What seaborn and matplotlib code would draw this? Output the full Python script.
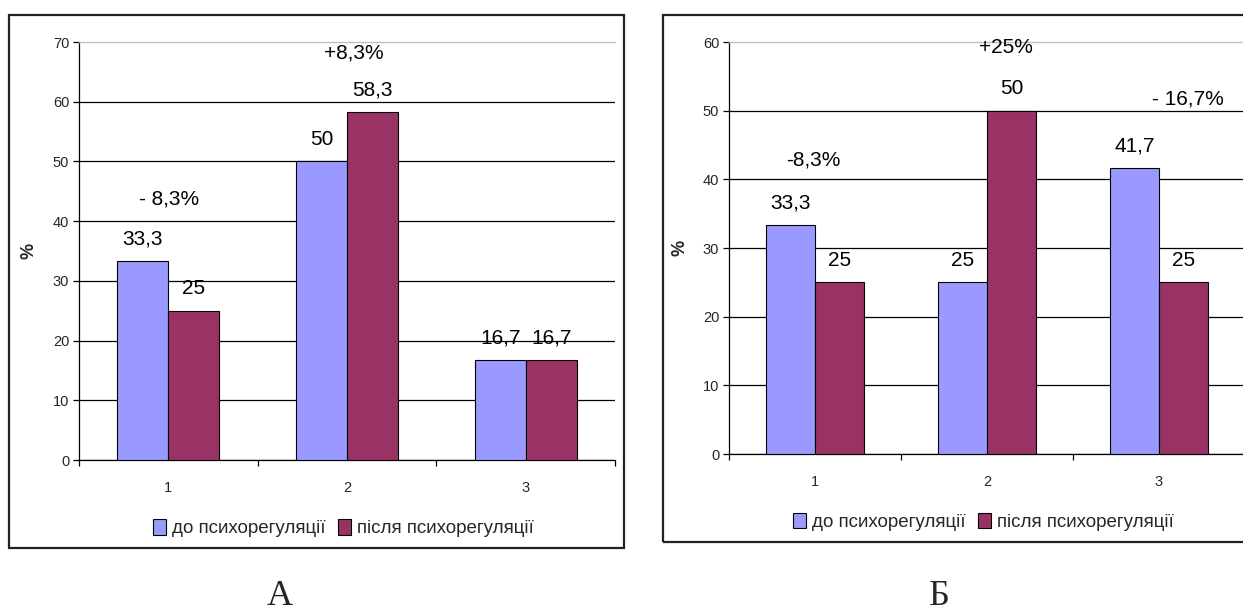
import matplotlib
matplotlib.use("Agg")
import matplotlib.pyplot as plt
from matplotlib.patches import Rectangle
import numpy as np
import pandas as pd
import seaborn as sns

# ---- data -------------------------------------------------------------
categories = ["1", "2", "3"]
series_names = ["до психорегуляції", "після психорегуляції"]

before_a = [33.3, 50, 16.7]
after_a = [25, 58.3, 16.7]
change_a = ["- 8,3%", "+8,3%"]

before_b = [33.3, 25, 41.7]
after_b = [25, 50, 25]
change_b = ["-8,3%", "+25%", "- 16,7%"]

panel_titles = ["А", "Б"]
ymax_a, ystep_a = 70, 10
ymax_b, ystep_b = 60, 10

# ---- style ------------------------------------------------------------
sns.set_theme(style="white")
plt.rcParams["font.family"] = ["Liberation Sans", "DejaVu Sans"]

colors = ["#9999FF", "#993366"]
W, H = 1243, 614
fig = plt.figure(figsize=(W / 100, H / 100), dpi=100)


def frac_box(x0, y0, x1, y1):
    """pixel box (top-left origin) -> figure fraction rect"""
    return [x0 / W, (H - y1) / H, (x1 - x0) / W, (y1 - y0) / H]


def fmt(v):
    return f"{v:g}".replace(".", ",")


def draw_panel(ax, before, after, changes, ymax, ystep, change_shift, legend_y):
    df = pd.DataFrame({
        "cat": categories * 2,
        "val": list(before) + list(after),
        "phase": [series_names[0]] * len(categories) + [series_names[1]] * len(categories),
    })
    sns.barplot(data=df, x="cat", y="val", hue="phase", palette=colors,
                width=0.57, edgecolor="black", linewidth=0.8, saturation=1,
                errorbar=None, ax=ax, zorder=3)

    n = len(categories)
    ax.set_xlim(-0.5, n - 0.5)
    ax.set_ylim(0, ymax)
    ax.set_xlabel("")
    ax.set_ylabel("%", fontsize=13, fontweight="bold")
    ax.yaxis.set_label_coords(-0.078, 0.5)

    # grid: black lines, top edge drawn lighter
    ticks = np.arange(0, ymax + ystep, ystep)
    ax.set_yticks(ticks)
    ax.set_yticklabels([f"{t:g}" for t in ticks])
    ax.yaxis.grid(True, color="black", linewidth=0.9)
    ax.set_axisbelow(True)
    ax.yaxis.get_major_ticks()[-1].gridline.set_visible(False)
    for side in ("left", "bottom"):
        ax.spines[side].set_color("black")
        ax.spines[side].set_linewidth(0.9)
    ax.spines["top"].set_color("#c0c0c0")
    ax.spines["top"].set_linewidth(1.0)
    ax.spines["right"].set_visible(False)

    ax.tick_params(axis="y", which="major", direction="out", length=4, width=0.9,
                   color="black", labelsize=10.5, pad=3, left=True)
    # category labels centred, tick marks on the category boundaries
    ax.set_xticks(range(n))
    ax.set_xticklabels(categories)
    ax.set_xticks(np.arange(-0.5, n, 1.0), minor=True)
    ax.tick_params(axis="x", which="major", length=0, labelsize=10.5, pad=15)
    ax.tick_params(axis="x", which="minor", direction="out", length=4, width=0.9,
                   color="black", bottom=True)

    # value labels above the bars
    for cont in ax.containers:
        for rect in cont:
            h = rect.get_height()
            ax.annotate(fmt(h), (rect.get_x() + rect.get_width() / 2, h),
                        xytext=(0, 22), textcoords="offset pixels",
                        ha="center", va="center", fontsize=15, color="black")

    # change between the two measurements
    for i, txt in enumerate(changes):
        top = max(before[i], after[i])
        dx, dy = change_shift[i]
        ax.annotate(txt, (i, top), xytext=(dx, dy), textcoords="offset pixels",
                    ha="center", va="center", fontsize=15, color="black")

    handles, labels = ax.get_legend_handles_labels()
    ax.legend(handles, labels, loc="center", bbox_to_anchor=(0.493, legend_y),
              ncol=2, frameon=False, fontsize=13.5, handlelength=0.7,
              handleheight=0.9, handletextpad=0.3, columnspacing=0.7,
              borderaxespad=0)


# outer frames
for box in ((9, 15, 624, 548), (663, 15, 1260, 542)):
    r = frac_box(*box)
    fig.patches.append(Rectangle(r[:2], r[2], r[3], transform=fig.transFigure,
                                 fill=False, edgecolor="#222222", linewidth=1.6))

ax_a = fig.add_axes(frac_box(79, 42, 615, 460))
ax_b = fig.add_axes(frac_box(729, 42, 1245, 454))
ax_a.patch.set_alpha(0)
ax_b.patch.set_alpha(0)

draw_panel(ax_a, before_a, after_a, change_a, ymax_a, ystep_a,
           [(1, 62), (7, 59)], -0.163)
draw_panel(ax_b, before_b, after_b, change_b, ymax_b, ystep_b,
           [(-2, 65), (19, 63), (29, 69)], -0.165)

for label, xc in zip(panel_titles, (280, 939)):
    fig.text(xc / W, 1 / H, label, ha="center", va="bottom",
             fontsize=26, family=["Liberation Serif", "DejaVu Serif"])

fig.savefig("out.png", dpi=100)
